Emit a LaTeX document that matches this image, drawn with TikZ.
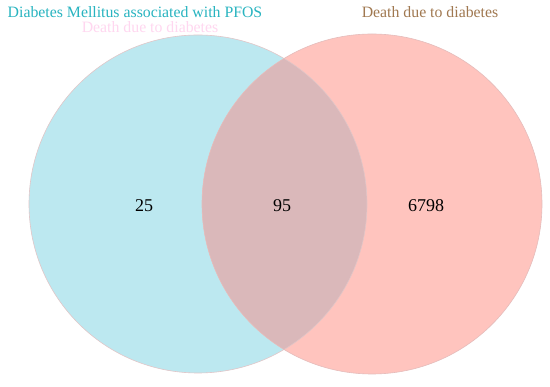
\documentclass[tikz,border=0pt]{standalone}
\usepackage{fontspec}
\setmainfont{Liberation Serif}
\definecolor{setA}{RGB}{188,232,240}
\definecolor{setB}{RGB}{255,196,190}
\definecolor{setAB}{RGB}{218,184,186}
\definecolor{titleA}{RGB}{40,180,192}
\definecolor{titleB}{RGB}{160,120,80}
\definecolor{ghost}{RGB}{255,215,240}
\begin{document}
\begin{tikzpicture}[x=1pt,y=-1pt,
  settitle/.style={font=\fontsize{15.8}{19}\selectfont},
  count/.style={font=\fontsize{18}{21}\selectfont, text=black}]
\useasboundingbox (0,0) rectangle (550,387);
\fill[white] (0,0) rectangle (550,387);
\coordinate (cA) at (198,204);
\coordinate (cB) at (372,204);
\fill[setA] (cA) circle[radius=169];
\fill[setB] (cB) circle[radius=170];
\begin{scope}
  \clip (cA) circle[radius=169];
  \fill[setAB] (cB) circle[radius=170];
\end{scope}
\draw[setAB!80!white, line width=0.6pt] (cA) circle[radius=169];
\draw[setAB!70!setB, line width=0.6pt] (cB) circle[radius=170];
\node[settitle, text=titleA] (tA) at (135,12) {Diabetes Mellitus associated with PFOS};
\node[settitle, text=titleB] (tB) at (430,12) {Death due to diabetes};
\node[settitle, text=ghost] (tG) at (150,27) {Death due to diabetes};
\node[count] (nA) at (144,206) {25};
\node[count] (nAB) at (282,206) {95};
\node[count] (nB) at (426,206) {6798};
\end{tikzpicture}
\end{document}
